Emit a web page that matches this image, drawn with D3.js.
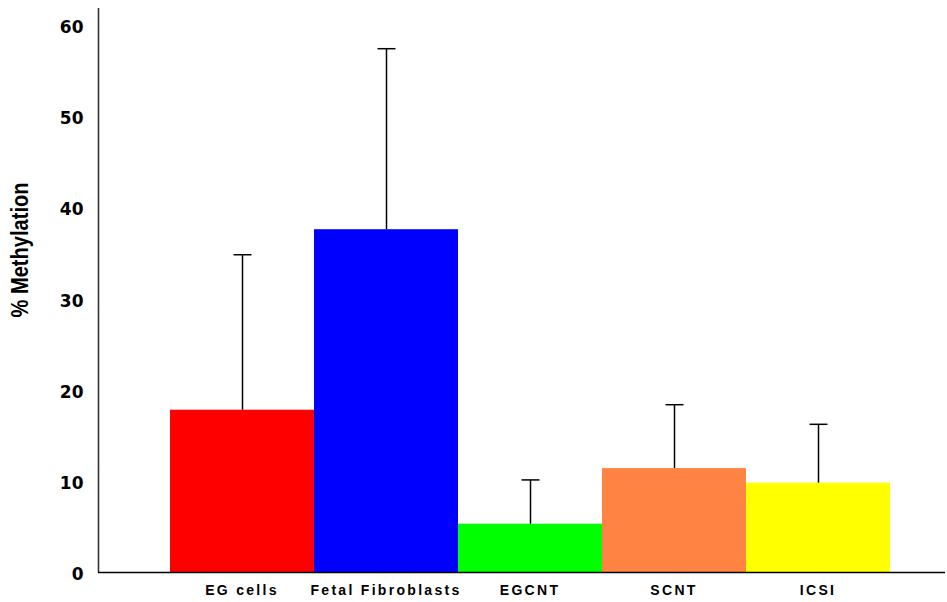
<!DOCTYPE html>
<html><head><meta charset="utf-8">
<script src="https://cdn.jsdelivr.net/npm/d3@7"></script>
<style>body{margin:0;background:#fff}</style>
</head><body>
<svg id="c" width="947" height="602"></svg>
<script>
const categories = ["EG cells", "Fetal Fibroblasts", "EGCNT", "SCNT", "ICSI"];
const means = [17.8, 37.6, 5.3, 11.4, 9.8];
const errors = [17.0, 19.8, 4.8, 6.95, 6.4];
const colors = ["#ff0000", "#0000ff", "#00ff00", "#ff8444", "#ffff00"];
const yTicks = [0, 10, 20, 30, 40, 50, 60];

const svg = d3.select("#c");
const x = d3.scaleBand().domain(categories).range([170, 890]).padding(0);
const y = d3.scaleLinear().domain([0, 60]).range([572, 25]);

// bars
svg.selectAll("rect.bar").data(categories).join("rect")
  .attr("x", d => x(d)).attr("width", x.bandwidth())
  .attr("y", (d, i) => y(means[i])).attr("height", (d, i) => y(0) - y(means[i]))
  .attr("fill", (d, i) => colors[i]);

// error bars
const eb = svg.append("g").attr("stroke", "#000").attr("stroke-width", 1.5);
categories.forEach((d, i) => {
  const cx = Math.round(x(d) + x.bandwidth() / 2) + 0.5;
  eb.append("line").attr("x1", cx).attr("x2", cx).attr("y1", y(means[i])).attr("y2", y(means[i] + errors[i]));
  eb.append("line").attr("x1", cx - 9).attr("x2", cx + 9).attr("y1", y(means[i] + errors[i])).attr("y2", y(means[i] + errors[i]));
});

// y axis
const yAxis = d3.axisLeft(y).tickValues(yTicks).tickSize(0).tickPadding(15);
const gy = svg.append("g").attr("transform", "translate(98.5,0)").call(yAxis);
gy.select(".domain").remove();
gy.selectAll("text").attr("font-family", "DejaVu Sans, sans-serif")
  .attr("font-weight", "bold").attr("font-size", 17).attr("fill", "#000").attr("dy", "0.45em");
svg.append("line").attr("x1", 98.5).attr("x2", 98.5).attr("y1", 8).attr("y2", 572)
  .attr("stroke", "#333").attr("stroke-width", 1.6);
// baseline
svg.append("line").attr("x1", 98).attr("x2", 945).attr("y1", 572.5).attr("y2", 572.5)
  .attr("stroke", "#000").attr("stroke-width", 1.5);

// x labels
const xAxis = d3.axisBottom(x).tickSize(0).tickPadding(13);
const gx = svg.append("g").attr("transform", "translate(0,572)").call(xAxis);
gx.select(".domain").remove();
gx.selectAll("text").attr("font-family", "Liberation Sans, Arial, sans-serif")
  .attr("font-weight", "bold").attr("font-size", 14).attr("letter-spacing", "2.3px").attr("fill", "#000");

// y label
svg.append("text").attr("transform", "translate(28,250) rotate(-90)")
  .attr("text-anchor", "middle")
  .attr("font-family", "Liberation Sans Narrow, Arial Narrow, sans-serif")
  .attr("font-weight", "bold").attr("font-size", 24).attr("fill", "#000")
  .attr("textLength", 135).attr("lengthAdjust", "spacingAndGlyphs")
  .text("% Methylation");
</script>
</body></html>
